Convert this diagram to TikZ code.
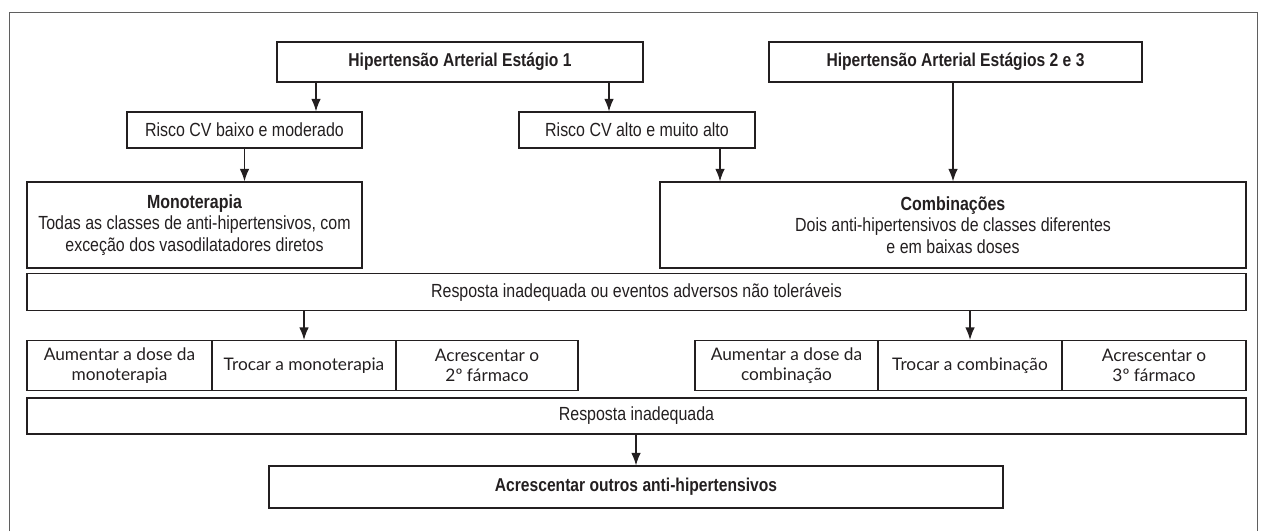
\documentclass[tikz,border=0pt]{standalone}
\usepackage{fontspec}
\setmainfont{Liberation Sans}[FakeStretch=0.84]
\newfontfamily\cellfont{Lato}
\usepackage{xcolor}
\definecolor{Col1}{RGB}{35,31,32}
\definecolor{Col2}{RGB}{95,95,95}
\usepackage{tikz}
\usetikzlibrary{arrows.meta}
\tikzstyle{Box}=[draw=Col1,line width=1.2pt,inner sep=0pt,align=center,
text=Col1,font=\fontsize{19}{21.7}\selectfont]
\tikzstyle{BoxB}=[Box,font=\fontsize{18.6}{21.7}\selectfont\bfseries]
\tikzstyle{Cell}=[Box,minimum height=50pt,
font=\cellfont\fontsize{17.3}{20.5}\selectfont]
\tikzstyle{Edge}=[draw=Col1,line width=1.2pt,-{Latex[length=12.5pt,width=9.5pt]}]
\tikzstyle{Frame}=[draw=Col2,line width=1pt]

\begin{document}
\begin{tikzpicture}[x=1pt,y=-1pt]
        \useasboundingbox(0,0)rectangle(1265,531);
        \draw[Frame](9,531)--(9,12)--(1257,12)--(1257,531);
        \node[BoxB,minimum width=366pt,minimum height=40pt](H1)at(460,62)
            {Hipertensão Arterial Estágio 1};
        \node[BoxB,minimum width=373pt,minimum height=40pt](H23)at(955.5,62)
            {Hipertensão Arterial Estágios 2 e 3};
        \node[Box,minimum width=235pt,minimum height=36pt](RB)at(244.5,130)
            {Risco CV baixo e moderado};
        \node[Box,minimum width=236pt,minimum height=36pt](RA)at(637,130)
            {Risco CV alto e muito alto};
        \node[Box,minimum width=335pt,minimum height=86pt](M)at(194.5,225)
            {\textbf{Monoterapia}\\Todas as classes de anti-hipertensivos, com\\
            exceção dos vasodilatadores diretos};
        \node[Box,minimum width=586pt,minimum height=86pt](C)at(953,225)
            {\textbf{Combinações}\\Dois anti-hipertensivos de classes diferentes\\
            e em baixas doses};
        \node[Box,minimum width=1219pt,minimum height=37pt](R1)at(636.5,292)
            {Resposta inadequada ou eventos adversos não toleráveis};
        \node[Cell,minimum width=185pt](L1)at(119.5,365.5)
            {Aumentar a dose da\\monoterapia};
        \node[Cell,minimum width=184pt](L2)at(304,365.5)
            {Trocar a monoterapia};
        \node[Cell,minimum width=182pt](L3)at(487,365.5)
            {Acrescentar o\\2º fármaco};
        \node[Cell,minimum width=183pt](K1)at(786.5,365.5)
            {Aumentar a dose da\\combinação};
        \node[Cell,minimum width=184pt](K2)at(970,365.5)
            {Trocar a combinação};
        \node[Cell,minimum width=184pt](K3)at(1154,365.5)
            {Acrescentar o\\3º fármaco};
        \node[Box,minimum width=1219pt,minimum height=36pt](R2)at(636.5,416)
            {Resposta inadequada};
        \node[BoxB,minimum width=734pt,minimum height=42pt](A)at(636,487)
            {Acrescentar outros anti-hipertensivos};
        \draw[Edge]([xshift=-144pt]H1.south)--([xshift=-144pt]H1.south|-RB.north);
        \draw[Edge]([xshift=149pt]H1.south)--([xshift=149pt]H1.south|-RA.north);
        \draw[Edge](RB.south)--(RB.south|-M.north);
        \draw[Edge]([xshift=83pt]RA.south)--([xshift=83pt]RA.south|-C.north);
        \draw[Edge](H23.south-|C.north)--(C.north);
        \draw[Edge](R1.south-|L2.north)--(L2.north);
        \draw[Edge](R1.south-|K2.north)--(K2.north);
        \draw[Edge](R2.south-|A.north)--(A.north);
    \end{tikzpicture}
\end{document}
